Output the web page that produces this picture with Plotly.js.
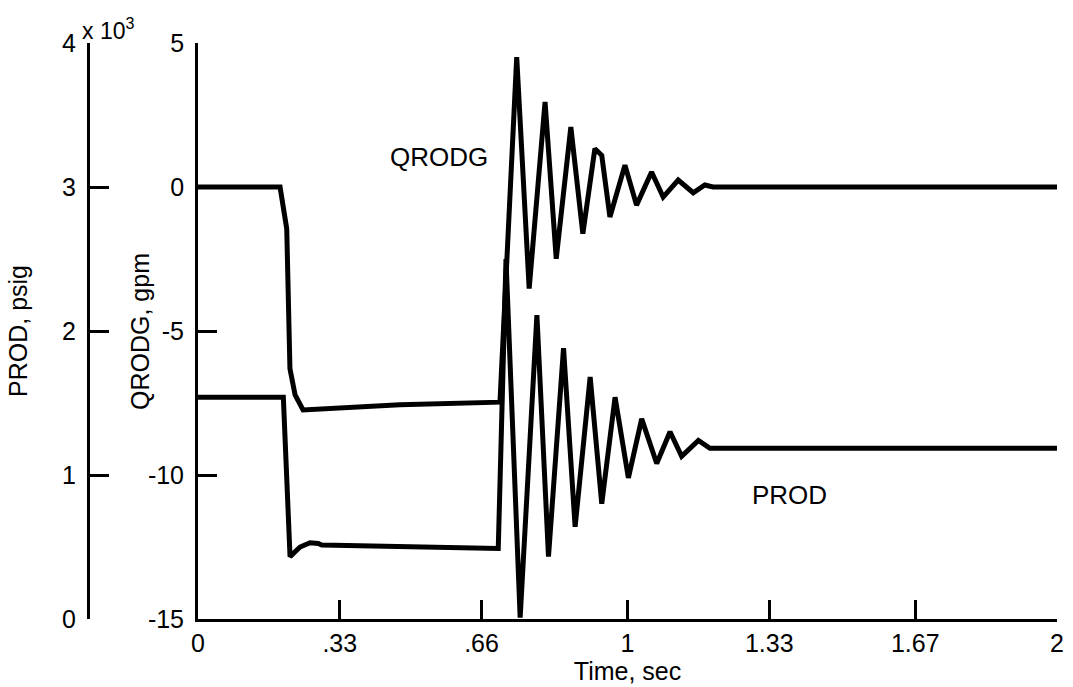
<!DOCTYPE html>
<html>
<head>
<meta charset="utf-8">
<script src="https://cdn.plot.ly/plotly-3.0.1.min.js"></script>
<style>html,body{margin:0;padding:0;background:#fff;}#chart{width:1073px;height:687px;}</style>
</head>
<body>
<div id="chart"></div>
<script>
// Time, sec
const timeQRODG = [0, 0.191, 0.2065, 0.214, 0.226, 0.2445, 0.470, 0.703, 0.742, 0.771, 0.808, 0.834, 0.868, 0.896, 0.924, 0.940, 0.959, 0.994, 1.021, 1.056, 1.083, 1.118, 1.153, 1.180, 1.199, 2.0];
// QRODG, gpm
const qrodg = [0, 0, -1.45, -6.31, -7.22, -7.74, -7.56, -7.47, 4.51, -3.53, 2.95, -2.49, 2.08, -1.62, 1.33, 1.1, -1.04, 0.76, -0.63, 0.52, -0.35, 0.24, -0.2, 0.07, 0, 0];

const timePROD = [0, 0.1986, 0.2142, 0.2375, 0.2608, 0.280, 0.288, 0.470, 0.699, 0.717, 0.750, 0.789, 0.816, 0.851, 0.878, 0.913, 0.940, 0.971, 1.002, 1.033, 1.068, 1.099, 1.126, 1.165, 1.192, 2.0];
// PROD, psig
const prod = [1540, 1540, 433, 500, 530, 525, 514, 502, 490, 2500, 10, 2110, 433, 1880, 640, 1680, 800, 1540, 980, 1390, 1080, 1300, 1130, 1240, 1185, 1185];

const xTickVals = [0, 0.33, 0.66, 1, 1.33, 1.67, 2];
const xTickText = ['0', '.33', '.66', '1', '1.33', '1.67', '2'];
const qTickVals = [-15, -10, -5, 0, 5];
const qTickText = ['-15', '-10', '-5', '0', '5'];
const pTickVals = [0, 1000, 2000, 3000, 4000];
const pTickText = ['0', '1', '2', '3', '4'];

const FONT = 'Liberation Sans, Arial, Helvetica, sans-serif';
const FS = 25;

const traces = [
  {x: timeQRODG, y: qrodg, mode: 'lines', name: 'QRODG', xaxis: 'x', yaxis: 'y',
   line: {color: '#000', width: 5}, hoverinfo: 'x+y'},
  {x: timePROD, y: prod, mode: 'lines', name: 'PROD', xaxis: 'x', yaxis: 'y2',
   line: {color: '#000', width: 5}, hoverinfo: 'x+y'}
];

const axisCommon = {
  showgrid: false, zeroline: false, showline: true, linecolor: '#000', linewidth: 3,
  ticks: 'inside', ticklen: 19, tickwidth: 3, tickcolor: '#000',
  tickfont: {family: FONT, size: FS, color: '#000'}
};

const layout = {
  width: 1073, height: 687,
  margin: {l: 40, r: 16, t: 43, b: 68},
  paper_bgcolor: '#fff', plot_bgcolor: '#fff',
  showlegend: false,
  font: {family: FONT, color: '#000'},
  xaxis: Object.assign({}, axisCommon, {
    domain: [0.1554, 1], range: [0, 2], tickmode: 'array',
    tickvals: xTickVals, ticktext: xTickText, anchor: 'y',
    title: {text: 'Time, sec', font: {family: FONT, size: FS, color: '#000'}, standoff: 0}
  }),
  yaxis: Object.assign({}, axisCommon, {
    range: [-15, 5], tickmode: 'array', tickvals: qTickVals, ticktext: qTickText, anchor: 'x',
    ticklabelstandoff: 6
  }),
  yaxis2: Object.assign({}, axisCommon, {
    range: [0, 4000], tickmode: 'array', tickvals: pTickVals, ticktext: pTickText,
    overlaying: 'y', anchor: 'free', position: 0.0472, side: 'left',
    ticklabelstandoff: 6,
    title: {text: 'PROD, psig', font: {family: FONT, size: FS, color: '#000'}, standoff: 26}
  }),
  annotations: [
    {text: 'QRODG, gpm', x: 0.0983, y: 0.5, xref: 'paper', yref: 'paper', showarrow: false,
     textangle: -90, xanchor: 'center', yanchor: 'middle',
     font: {family: FONT, size: FS, color: '#000'}},
    {text: 'QRODG', x: 0.561, y: 1.04, xref: 'x', yref: 'y', showarrow: false,
     font: {family: FONT, size: FS + 1, color: '#000'}},
    {text: 'PROD', x: 1.378, y: -10.7, xref: 'x', yref: 'y', showarrow: false,
     font: {family: FONT, size: FS + 1, color: '#000'}},
    {text: 'x 10<sup>3</sup>', x: 0.0669, y: 1.025, xref: 'paper', yref: 'paper', showarrow: false,
     xanchor: 'center', yanchor: 'middle', font: {family: FONT, size: 23, color: '#000'}}
  ]
};

Plotly.newPlot('chart', traces, layout, {displayModeBar: false, staticPlot: true});
</script>
</body>
</html>
